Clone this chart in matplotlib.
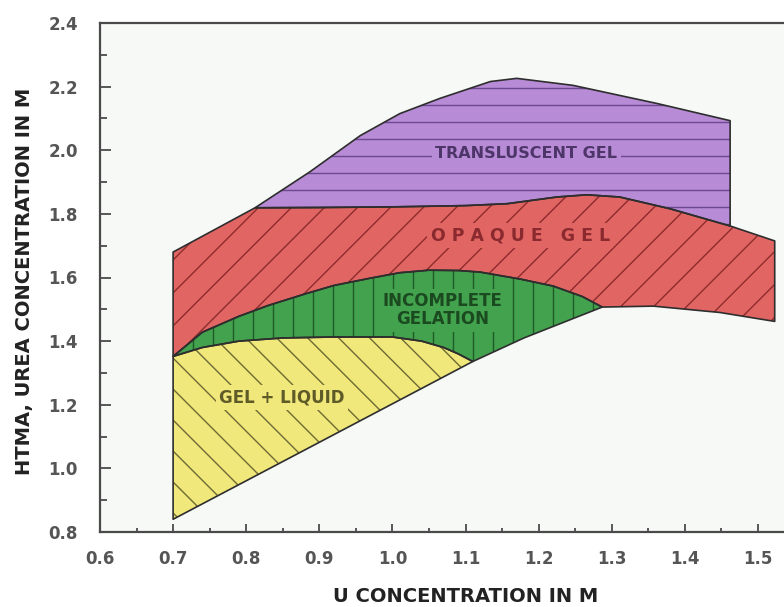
import numpy as np
import matplotlib
matplotlib.use("Agg")
import matplotlib.pyplot as plt
from matplotlib.patches import Polygon
from matplotlib.collections import LineCollection
from matplotlib.ticker import MultipleLocator

# ---------------- data ----------------
yellow_top_x = [0.70, 0.74, 0.79, 0.85, 0.92, 1.00, 1.04, 1.07, 1.09, 1.11]
yellow_top_y = [1.352, 1.38, 1.40, 1.41, 1.413, 1.413, 1.40, 1.38, 1.36, 1.336]
yellow_bottom_x = [0.70, 1.11]
yellow_bottom_y = [0.84, 1.336]

green_top_x = [0.70, 0.74, 0.79, 0.83, 0.88, 0.92, 0.97, 1.01, 1.05, 1.09,
               1.12, 1.175, 1.22, 1.26, 1.287]
green_top_y = [1.352, 1.428, 1.478, 1.512, 1.548, 1.575, 1.598, 1.615, 1.623,
               1.622, 1.617, 1.595, 1.573, 1.54, 1.507]
green_lower_x = [1.11, 1.18, 1.287]
green_lower_y = [1.336, 1.41, 1.507]

red_top_x = [0.70, 0.812, 0.90, 1.00, 1.10, 1.157, 1.225, 1.266, 1.311, 1.38,
             1.462, 1.523]
red_top_y = [1.68, 1.819, 1.82, 1.822, 1.826, 1.832, 1.853, 1.86, 1.853, 1.816,
             1.762, 1.715]
red_bottom_x = [1.287, 1.357, 1.448, 1.523]
red_bottom_y = [1.507, 1.51, 1.49, 1.462]

purple_top_x = [0.812, 0.887, 0.956, 1.01, 1.065, 1.134, 1.17, 1.247, 1.362, 1.462]
purple_top_y = [1.819, 1.932, 2.046, 2.115, 2.163, 2.216, 2.226, 2.204, 2.147, 2.093]

region_labels = ["TRANSLUSCENT GEL", "O P A Q U E   G E L",
                 "INCOMPLETE\nGELATION", "GEL + LIQUID"]
label_x = [1.183, 1.175, 1.069, 0.849]
label_y = [1.989, 1.731, 1.497, 1.223]

x_ticks = [0.6, 0.7, 0.8, 0.9, 1.0, 1.1, 1.2, 1.3, 1.4, 1.5]
x_tick_labels = ["0.6", "0.7", "0.8", "0.9", "1.0", "1.1", "1.2", "1.3", "1.4", "1.5"]
y_ticks = [0.8, 1.0, 1.2, 1.4, 1.6, 1.8, 2.0, 2.2, 2.4]
y_tick_labels = ["0.8", "1.0", "1.2", "1.4", "1.6", "1.8", "2.0", "2.2", "2.4"]
x_label = "U CONCENTRATION IN M"
y_label = "HTMA, UREA CONCENTRATION IN M"

# ---------------- styles ----------------
W, H = 784, 607
DPI = 100
AX_L, AX_B, AX_W, AX_H = 100, 75, 731, 509   # pixels
XMIN, XMAX, YMIN, YMAX = 0.6, 1.6, 0.8, 2.4

C_PURPLE, C_RED, C_GREEN, C_YELLOW = "#b78bd6", "#e16563", "#42a24d", "#f0e87a"
H_PURPLE, H_RED, H_GREEN, H_YELLOW = "#6e4890", "#8e2c2c", "#1f5a27", "#6f6a35"
T_PURPLE, T_RED, T_GREEN, T_YELLOW = "#4d3569", "#8a2a2e", "#1b4a20", "#5f5b28"
EDGE = "#2e2e2e"

plt.rcParams["font.family"] = ["DejaVu Sans"]

fig = plt.figure(figsize=(W / DPI, H / DPI), dpi=DPI)
fig.patch.set_facecolor("white")
ax = fig.add_axes([AX_L / W, AX_B / H, AX_W / W, AX_H / H])
ax.set_facecolor("#f6f9f6")
ax.set_xlim(XMIN, XMAX)
ax.set_ylim(YMIN, YMAX)


def pts(xs, ys):
    return list(zip(xs, ys))


yellow_poly = pts(yellow_top_x, yellow_top_y) + pts(yellow_bottom_x, yellow_bottom_y)[::-1]
green_poly = (pts(green_top_x, green_top_y) + pts(green_lower_x, green_lower_y)[::-1]
              + pts(yellow_top_x, yellow_top_y)[::-1])
red_poly = (pts(red_top_x, red_top_y) + pts(red_bottom_x, red_bottom_y)[::-1]
            + pts(green_top_x, green_top_y)[::-1])
i0 = red_top_x.index(purple_top_x[0])
i1 = red_top_x.index(purple_top_x[-1])
purple_poly = pts(purple_top_x, purple_top_y) + pts(red_top_x[i0:i1 + 1], red_top_y[i0:i1 + 1])[::-1]

sx = AX_W / (XMAX - XMIN)
sy = AX_H / (YMAX - YMIN)


def add_hatch(patch, angle, spacing, anchor, color, lw=1.0):
    th = np.radians(angle)
    d = np.array([np.cos(th), np.sin(th)])
    n = np.array([-np.sin(th), np.cos(th)])
    corners = np.array([[0, 0], [AX_W, 0], [0, AX_H], [AX_W, AX_H]])
    proj = corners @ n
    c0 = np.dot(np.array(anchor), n)
    k0 = np.floor((proj.min() - c0) / spacing)
    k1 = np.ceil((proj.max() - c0) / spacing)
    L = np.hypot(AX_W, AX_H) * 1.5
    center = np.array([AX_W / 2, AX_H / 2])
    segs = []
    for k in np.arange(k0, k1 + 1):
        c = c0 + k * spacing
        p = center + (c - center @ n) * n
        a = p - L * d
        b = p + L * d
        segs.append([(XMIN + a[0] / sx, YMIN + a[1] / sy),
                     (XMIN + b[0] / sx, YMIN + b[1] / sy)])
    lc = LineCollection(segs, colors=color, linewidths=lw, zorder=1.5)
    ax.add_collection(lc)
    lc.set_clip_path(patch)


regions = [
    (purple_poly, C_PURPLE, H_PURPLE, 0, 17.0, (0, 359)),
    (red_poly, C_RED, H_RED, 45, 23.3, (73, 239)),
    (green_poly, C_GREEN, H_GREEN, 90, 20.0, (133, 0)),
    (yellow_poly, C_YELLOW, H_YELLOW, -45, 21.9, (73, 112)),
]
for poly, fc, hc, ang, sp, anc in regions:
    p = Polygon(poly, closed=True, facecolor=fc, edgecolor="none", zorder=1)
    ax.add_patch(p)
    add_hatch(p, ang, sp, anc, hc, lw=1.0)
for poly, fc, hc, ang, sp, anc in regions:
    ax.add_patch(Polygon(poly, closed=True, fill=False, edgecolor=EDGE,
                         linewidth=1.2, zorder=2, joinstyle="round"))

# region labels
label_styles = [
    dict(color=T_PURPLE, fc=C_PURPLE, size=11.5),
    dict(color=T_RED, fc=C_RED, size=12.5),
    dict(color=T_GREEN, fc=C_GREEN, size=12),
    dict(color=T_YELLOW, fc=C_YELLOW, size=12),
]
for txt, lx, ly, st in zip(region_labels, label_x, label_y, label_styles):
    ax.text(lx, ly, txt, ha="center", va="center", fontsize=st["size"],
            fontweight="bold", color=st["color"], linespacing=1.0,
            multialignment="center", zorder=3,
            bbox=dict(facecolor=st["fc"], edgecolor="none", pad=2.5))

# axes styling
for s in ["left", "bottom", "top"]:
    ax.spines[s].set_color("#4a4a4a")
    ax.spines[s].set_linewidth(1.6)
ax.spines["right"].set_visible(False)

ax.set_xticks(x_ticks)
ax.set_xticklabels(x_tick_labels)
ax.set_yticks(y_ticks)
ax.set_yticklabels(y_tick_labels)
ax.xaxis.set_minor_locator(MultipleLocator(0.05))
ax.yaxis.set_minor_locator(MultipleLocator(0.1))
ax.tick_params(axis="both", which="both", direction="in", color="#4a4a4a", width=1.3)
ax.tick_params(axis="x", which="major", length=6, pad=13)
ax.tick_params(axis="x", which="minor", length=3)
ax.tick_params(axis="y", which="major", length=8, pad=16)
ax.tick_params(axis="y", which="minor", length=5)
ax.tick_params(top=False, right=False)
for lab in ax.get_xticklabels() + ax.get_yticklabels():
    lab.set_fontsize(12)
    lab.set_fontweight("bold")
    lab.set_color("#555555")

ax.set_xlabel(x_label, fontsize=14, fontweight="bold", color="#222222")
ax.set_ylabel(y_label, fontsize=14, fontweight="bold", color="#222222")
ax.xaxis.label.set_va("center")
ax.yaxis.label.set_va("center")
ax.xaxis.set_label_coords(0.5, -65 / AX_H)
ax.yaxis.set_label_coords(-75 / AX_W, (532 - 281) / AX_H)

fig.savefig("out.png", dpi=DPI)
